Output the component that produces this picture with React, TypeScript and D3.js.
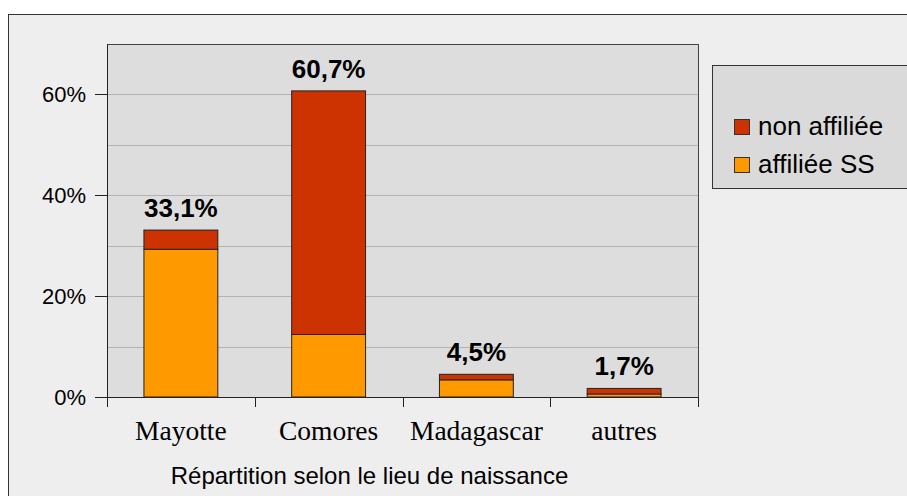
import React from "react";
import * as d3 from "d3";

const categories = ["Mayotte", "Comores", "Madagascar", "autres"];
const affiliee = [29.3, 12.4, 3.4, 0.6];
const nonAffiliee = [3.8, 48.3, 1.1, 1.1];
const totalLabels = ["33,1%", "60,7%", "4,5%", "1,7%"];
const yTicks = [0, 20, 40, 60];
const gridValues = [10, 20, 30, 40, 50, 60];
const seriesNames = ["non affiliée", "affiliée SS"];
const seriesColors = ["#cc3300", "#ff9900"];
const axisTitle = "Répartition selon le lieu de naissance";

const W = 907;
const H = 496;
const plot = { left: 107, right: 698, top: 44, bottom: 397 };
const sans = "'Liberation Sans', Arial, sans-serif";
const serif = "'Liberation Serif', 'Times New Roman', serif";

export default function App() {
  const x = d3
    .scaleBand<string>()
    .domain(categories)
    .range([plot.left, plot.right])
    .paddingInner(0.5)
    .paddingOuter(0.25);
  const y = d3.scaleLinear().domain([0, 70]).range([plot.bottom, plot.top]);
  const step = x.step();
  const boundaries = d3.range(categories.length + 1).map((i) => plot.left + i * step);

  return (
    <svg
      width={W}
      height={H}
      style={{ position: "absolute", left: 0, top: 0, display: "block" }}
    >
      <rect x={0} y={0} width={W} height={H} fill="#ffffff" />
      <rect x={8.5} y={14.5} width={920} height={500} fill="#eeeeee" stroke="#333333" strokeWidth={1} />
      {/* plot area */}
      <rect
        x={plot.left}
        y={plot.top}
        width={plot.right - plot.left}
        height={plot.bottom - plot.top}
        fill="#dddddd"
      />
      {gridValues.map((g) => (
        <line
          key={g}
          x1={plot.left}
          x2={plot.right}
          y1={Math.round(y(g)) + 0.5}
          y2={Math.round(y(g)) + 0.5}
          stroke="#b3b3b3"
          strokeWidth={1}
        />
      ))}
      <line x1={plot.left} x2={plot.right} y1={plot.top + 0.5} y2={plot.top + 0.5} stroke="#444" />
      <line x1={plot.right + 0.5} x2={plot.right + 0.5} y1={plot.top} y2={plot.bottom} stroke="#444" />
      {/* bars */}
      {categories.map((c, i) => {
        const x0 = x(c)!;
        const bw = x.bandwidth();
        const a = affiliee[i];
        const n = nonAffiliee[i];
        return (
          <g key={c}>
            <rect
              x={x0}
              y={y(a)}
              width={bw}
              height={y(0) - y(a)}
              fill={seriesColors[1]}
              stroke="#222"
              strokeWidth={1}
            />
            <rect
              x={x0}
              y={y(a + n)}
              width={bw}
              height={y(a) - y(a + n)}
              fill={seriesColors[0]}
              stroke="#222"
              strokeWidth={1}
            />
            <text
              x={x0 + bw / 2}
              y={y(a + n) - 13}
              textAnchor="middle"
              fontFamily={sans}
              fontWeight="bold"
              fontSize={26}
              fill="#000"
            >
              {totalLabels[i]}
            </text>
            <text
              x={x0 + bw / 2}
              y={440}
              textAnchor="middle"
              fontFamily={serif}
              fontSize={27.5}
              fill="#000"
            >
              {c}
            </text>
          </g>
        );
      })}
      {/* axes */}
      <line x1={plot.left + 0.5} x2={plot.left + 0.5} y1={plot.top} y2={plot.bottom + 10} stroke="#222" />
      <line x1={plot.left} x2={plot.right + 1} y1={plot.bottom + 0.5} y2={plot.bottom + 0.5} stroke="#222" />
      {boundaries.map((b, i) => (
        <line
          key={i}
          x1={Math.round(b) + 0.5}
          x2={Math.round(b) + 0.5}
          y1={plot.bottom}
          y2={plot.bottom + 10}
          stroke="#222"
        />
      ))}
      {yTicks.map((t) => (
        <g key={t}>
          <line
            x1={95}
            x2={plot.left}
            y1={Math.round(y(t)) + 0.5}
            y2={Math.round(y(t)) + 0.5}
            stroke="#222"
          />
          <text
            x={86}
            y={y(t) + 8}
            textAnchor="end"
            fontFamily={sans}
            fontSize={22}
            fill="#000"
          >
            {t}%
          </text>
        </g>
      ))}
      <text
        x={369.5}
        y={484}
        textAnchor="middle"
        fontFamily={sans}
        fontSize={24}
        fill="#000"
      >
        {axisTitle}
      </text>
      {/* legend */}
      <rect x={712.5} y={65.5} width={220} height={123} fill="#dadada" stroke="#333" />
      {seriesNames.map((s, i) => (
        <g key={s}>
          <rect
            x={734.5}
            y={119.5 + i * 38}
            width={15}
            height={15}
            fill={seriesColors[i]}
            stroke="#333"
          />
          <text x={758} y={135 + i * 38} fontFamily={sans} fontSize={26} fill="#000">
            {s}
          </text>
        </g>
      ))}
    </svg>
  );
}
